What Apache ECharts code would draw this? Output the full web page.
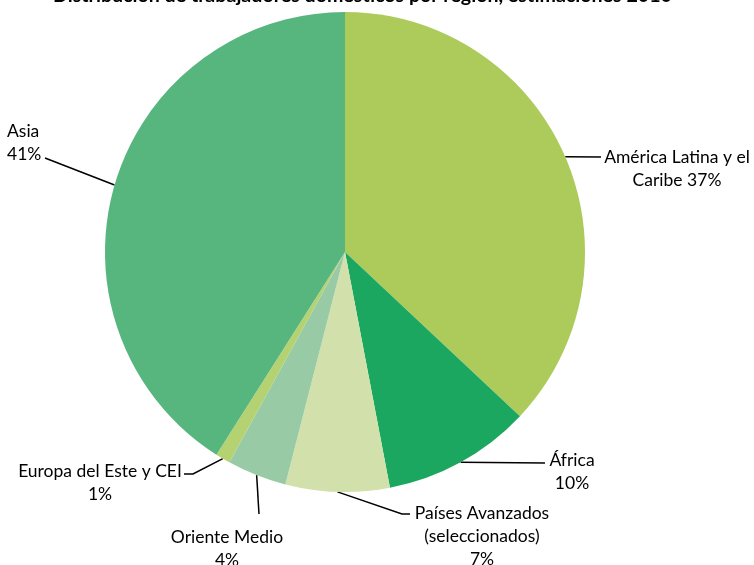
<!DOCTYPE html>
<html>
<head>
<meta charset="utf-8">
<script src="https://cdn.jsdelivr.net/npm/echarts@6/dist/echarts.min.js"></script>
<style>
html,body{margin:0;padding:0;background:#fff;}
#chart{width:754px;height:565px;}
</style>
</head>
<body>
<div id="chart"></div>
<script>
const titleText = 'Distribución de trabajadores domésticos por región, estimaciones 2010';
const categories = ['América Latina y el Caribe', 'África', 'Países Avanzados (seleccionados)', 'Oriente Medio', 'Europa del Este y CEI', 'Asia'];
const labelTexts = ['América Latina y el\nCaribe 37%', 'África\n10%', 'Países Avanzados\n(seleccionados)\n7%', 'Oriente Medio\n4%', 'Europa del Este y CEI\n1%', 'Asia\n41%'];
const values = [37, 10, 7, 4, 1, 41];
const colors = ['#ADCB5A', '#1BA760', '#D2E1AB', '#98CAA5', '#B5D272', '#57B57E'];

// label anchor layout (text block center, leader line end points)
const labelPos = [
  {x: 677, y: 169, align: 'center', pts: [[601, 157]]},
  {x: 572, y: 472, align: 'center', pts: [[545, 463]]},
  {x: 482, y: 536, align: 'center', pts: [[402, 514], [410, 514]]},
  {x: 227, y: 549, align: 'center', pts: [[259, 514]]},
  {x: 100, y: 483, align: 'center', pts: [[193, 474], [184, 474]]},
  {x: 7, y: 143, align: 'left', pts: [[45, 158]]}
];

const chart = echarts.init(document.getElementById('chart'), null, {renderer: 'canvas'});
const FONT = 'Lato';
chart.setOption({
  animation: false,
  title: {
    text: titleText,
    left: 48,
    top: -19,
    textStyle: {fontFamily: FONT, fontWeight: 'bold', fontSize: 19.6, color: '#000'}
  },
  series: [{
    type: 'pie',
    center: [345, 252],
    radius: [0, 240],
    startAngle: 90,
    clockwise: true,
    data: categories.map((c, i) => ({name: c, value: values[i], itemStyle: {color: colors[i]}})),
    itemStyle: {borderWidth: 0},
    label: {
      show: true,
      position: 'outside',
      alignTo: 'none',
      overflow: 'none',
      formatter: p => labelTexts[p.dataIndex],
      fontFamily: FONT,
      fontSize: 17.5,
      color: '#000',
      lineHeight: 23
    },
    labelLine: {show: true, lineStyle: {color: '#000', width: 1.5}},
    labelLayout: function (params) {
      const lp = labelPos[params.dataIndex];
      const start = params.labelLinePoints ? params.labelLinePoints[0] : null;
      const out = {
        x: lp.x,
        y: lp.y,
        align: lp.align,
        verticalAlign: 'middle'
      };
      if (start) out.labelLinePoints = [start].concat(lp.pts);
      return out;
    }
  }]
});
</script>
</body>
</html>
